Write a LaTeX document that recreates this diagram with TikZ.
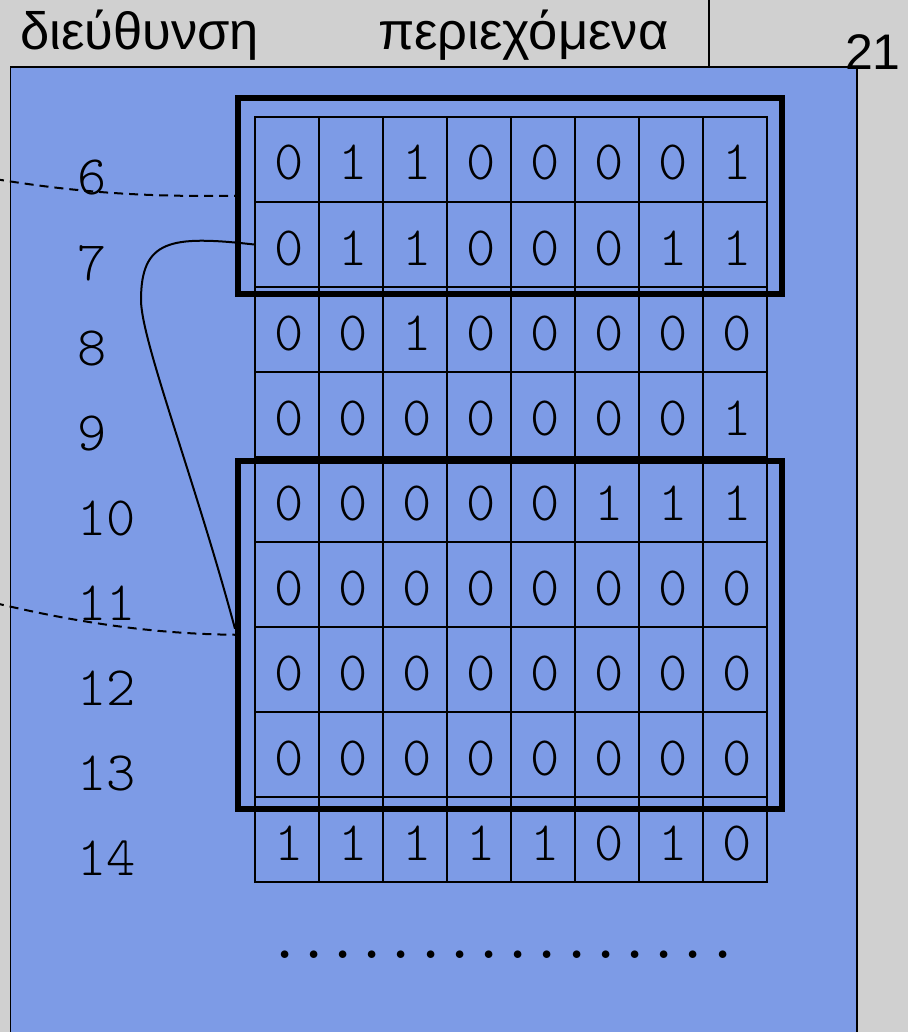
\documentclass[tikz,border=0pt]{standalone}
\usepackage{fontspec}
\setmainfont{Liberation Sans}
\definecolor{bgGray}{RGB}{208,208,208}
\definecolor{memBlue}{RGB}{125,155,230}
\newcommand{\monolight}{\fontsize{55.6}{60}\ttfamily\fontseries{l}\selectfont}
\newcommand{\monobold}{\fontsize{55.6}{60}\ttfamily\bfseries}
\tikzset{
  header/.style={inner sep=0pt, font=\fontsize{52.5}{56}\selectfont},
  cell/.style={draw, line width=1.8pt, minimum width=64pt, minimum height=85pt,
    inner sep=0pt, font=\monolight, text height=41pt, text depth=0pt},
  addr/.style={inner sep=0pt, anchor=base west, font=\monolight},
  hlbox/.style={draw, line width=6pt, inner sep=0pt, rectangle},
  dashline/.style={line width=2pt, dash pattern=on 9pt off 6pt},
  link/.style={line width=2pt}
}
\begin{document}
\begin{tikzpicture}[x=1pt,y=-1pt]
\useasboundingbox (0,0) rectangle (908,1032);
\clip (0,0) rectangle (908,1032);
\fill[bgGray] (0,0) rectangle (908,1032);
\draw[line width=1.5pt, fill=memBlue] (10.5,67) rectangle (857,1045);
\draw[line width=1.5pt] (709,-2) -- (709,67);
\node[header, anchor=base west] (hAddr) at (20,50) {διεύθυνση};
\node[header, anchor=base west] (hCont) at (378,50) {περιεχόμενα};
\node[anchor=base east, inner sep=0pt, font=\fontsize{50}{52}\selectfont] (page) at (901,70) {21};
\foreach \row/\vals in {6/{0,1,1,0,0,0,0,1},7/{0,1,1,0,0,0,1,1},8/{0,0,1,0,0,0,0,0},
  9/{0,0,0,0,0,0,0,1},10/{0,0,0,0,0,1,1,1},11/{0,0,0,0,0,0,0,0},
  12/{0,0,0,0,0,0,0,0},13/{0,0,0,0,0,0,0,0},14/{1,1,1,1,1,0,1,0}}{
  \node[addr] (a\row) at (77,{195+85*(\row-6)}) {\row};
  \foreach \v [count=\j from 0] in \vals {
    \node[cell] (c\row-\j) at ({287+64*\j},{159.5+85*(\row-6)}) {\kern5pt\v};
  }
}
\node[hlbox, minimum width=544pt, minimum height=195.5pt] (boxA) at (510,195.75) {};
\node[hlbox, minimum width=544pt, minimum height=347.5pt] (boxB) at (510,634.75) {};
\node[anchor=base west, inner sep=0pt, font=\monobold] (dots) at (270,958) {................};
\coordinate (inA) at (-5,179);
\coordinate (inB) at (-5,603);
\draw[dashline] (inA) .. controls (80,193) and (150,197) .. (boxA.west);
\draw[dashline] (inB) .. controls (70,621) and (150,634) .. (boxB.west);
\draw[link] (c7-0.west) .. controls (170,235) and (141,240) .. (141,300)
  .. controls (141,340) and (195,480) .. ([yshift=6pt]boxB.west);
\end{tikzpicture}
\end{document}
